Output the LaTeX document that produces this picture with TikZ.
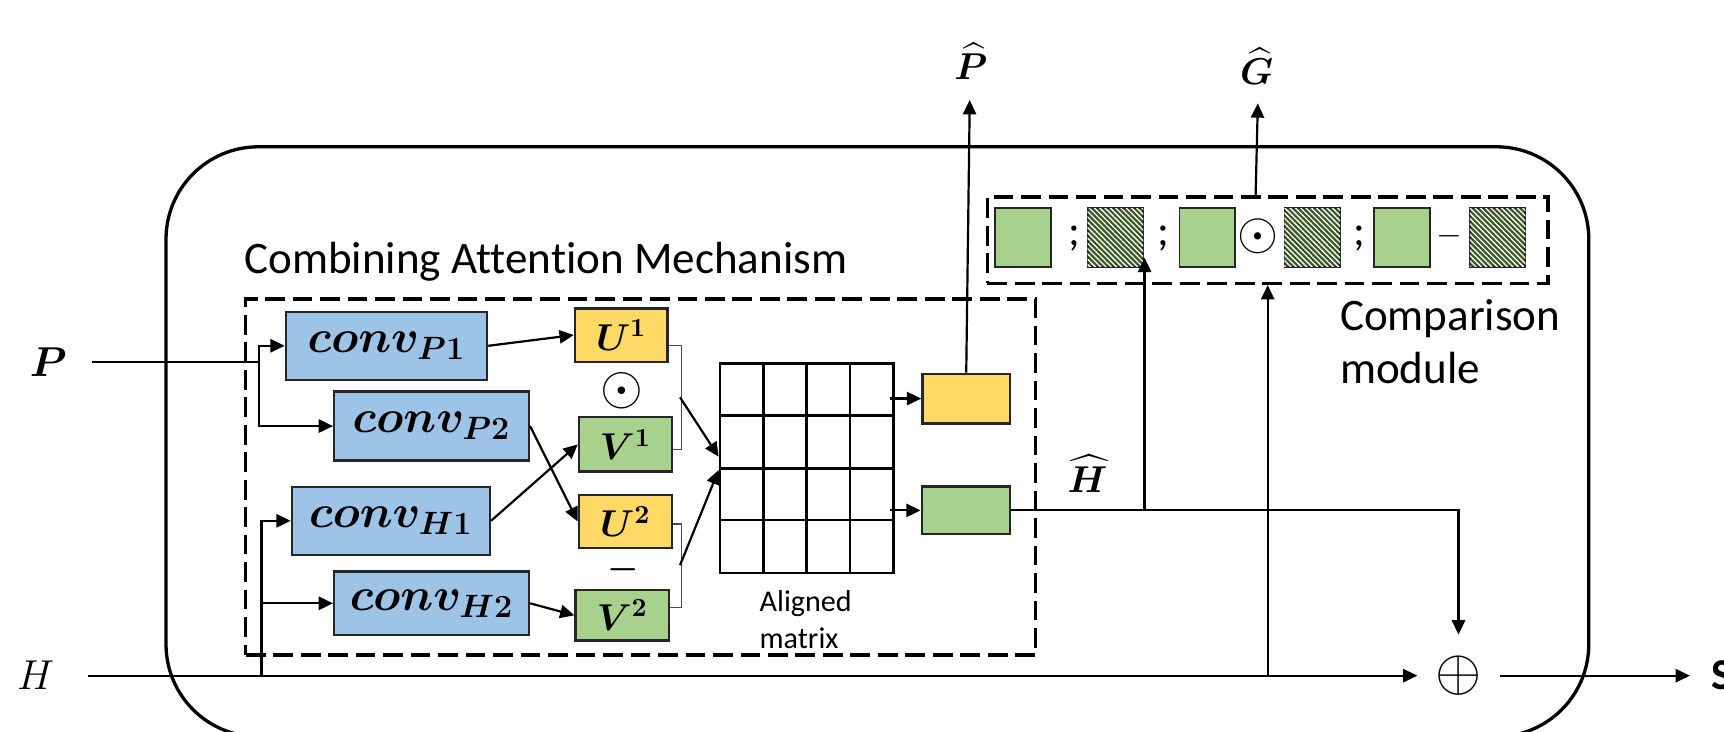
\RequirePackage{fix-cm}
\documentclass[tikz,border=0pt]{standalone}
\usepackage{amsmath}
\usepackage{bm}
\usepackage[no-math]{fontspec}
\setmainfont{Carlito}[Ligatures=NoCommon]
\usetikzlibrary{arrows.meta,calc,patterns.meta}
\definecolor{cblue}{HTML}{9DC3E6}
\definecolor{cyellow}{HTML}{FFD966}
\definecolor{cgreen}{HTML}{A9D18E}
\definecolor{cdark}{HTML}{385723}
\tikzset{
  box/.style={draw=black!85, line width=1.1pt, inner sep=0pt},
  convbox/.style={box, fill=cblue, font=\fontsize{21}{25}\selectfont},
  ybox/.style={box, fill=cyellow, font=\fontsize{17}{20}\selectfont},
  gbox/.style={box, fill=cgreen, font=\fontsize{17}{20}\selectfont},
  arr/.style={line width=1pt, -{Triangle[length=6.5pt,width=6pt]}},
  plain/.style={line width=1pt},
  brk/.style={line width=0.5pt, draw=black!70},
  dbox/.style={draw, line width=1.6pt, dash pattern=on 9pt off 3.5pt},
  gridl/.style={line width=1.2pt},
  sq/.style={draw=black!85, line width=0.9pt, minimum width=25.25pt, minimum height=26.5pt, inner sep=0pt},
  gsq/.style={sq, fill=cgreen},
  hsq/.style={sq, fill=cdark, postaction={pattern={Lines[angle=-45,distance=1.7pt,line width=0.6pt]}, pattern color=white}},
  lbl/.style={font=\fontsize{20.5}{24.25}\selectfont, inner sep=0pt},
  semi/.style={font=\fontsize{20}{24}\selectfont, inner sep=0pt},
  mlbl/.style={font=\fontsize{19}{22}\selectfont},
  hlbl/.style={font=\fontsize{17}{20}\selectfont, inner sep=0pt},
}
\begin{document}
\begin{tikzpicture}[x=0.5pt,y=-0.5pt]
\useasboundingbox (0,0) rectangle (1568,665);
% outer rounded frame
\draw[line width=1.5pt, rounded corners=42pt] (151,133.5) rectangle (1445,670);

% titles
\node[lbl, anchor=west] (camt) at (222,238) {Combining Attention Mechanism};
\node[lbl, align=left] (cmpt) at (1319,311) {Comparison\\module};

% dashed containers
\node[dbox, minimum width=359.25pt, minimum height=161.85pt, inner sep=0pt] (cam) at (582.75,433.85) {};
\node[dbox, minimum width=255pt, minimum height=39.35pt, inner sep=0pt] (cmp) at (1153,218.35) {};

% inputs
\node[mlbl] (P) at (44,329) {$\bm{P}$};
\node[mlbl] (H) at (32.5,614.5) {$H$};
\coordinate (Ps) at (84,329);
\coordinate (Pj) at (235.5,329);
\coordinate (Hs) at (79.6,614.5);
\coordinate (Hj) at (237.8,614.5);
\coordinate (Hk) at (1153,614.5);

% conv boxes
\node[convbox, minimum width=91.5pt, minimum height=31pt] (c1) at (351.5,314.5) {$\bm{conv_{P1}}$};
\node[convbox, minimum width=88.5pt, minimum height=31.5pt] (c2) at (392.5,387.5) {$\bm{conv_{P2}}$};
\node[convbox, minimum width=90pt, minimum height=31pt] (h1) at (355.5,473.7) {$\bm{conv_{H1}}$};
\node[convbox, minimum width=88.5pt, minimum height=28.75pt] (h2) at (392.5,548.7) {$\bm{conv_{H2}}$};

% U / V boxes
\node[ybox, minimum width=42pt, minimum height=24.3pt] (u1) at (565,304.7) {$\bm{U^{1}}$};
\node[gbox, minimum width=42.2pt, minimum height=24.75pt] (v1) at (568.8,404.2) {$\bm{V^{1}}$};
\node[ybox, minimum width=42.2pt, minimum height=24.35pt] (u2) at (568.8,474.3) {$\bm{U^{2}}$};
\node[gbox, minimum width=42.45pt, minimum height=23.05pt] (v2) at (566,559.6) {$\bm{V^{2}}$};
\node[font=\fontsize{25}{28}\selectfont, inner sep=0pt] (od1) at (566,355) {$\odot$};
\node[font=\fontsize{16}{20}\selectfont, inner sep=0pt] (mi1) at (566.5,517.8) {$\bm{-}$};

% aligned matrix
\node[draw, gridl, minimum width=78.85pt, minimum height=95.25pt, inner sep=0pt] (mat) at (733.65,425.75) {};
\foreach \x in {694.2,733.6,773} \draw[gridl] (\x,330.5) -- (\x,521);
\foreach \y in {378,426,473} \draw[gridl] (654.8,\y) -- (812.5,\y);
\node[align=left, inner sep=0pt, font=\fontsize{13.7}{16.8}\selectfont] (amt) at (732.8,563.8) {Aligned\\matrix};

% outputs of attention
\node[box, fill=cyellow, minimum width=39.8pt, minimum height=22.5pt] (ya) at (878.8,362.5) {};
\node[box, fill=cgreen, minimum width=40.15pt, minimum height=21.55pt] (ga) at (878.5,464.2) {};

% comparison squares
\node[gsq] (s1) at (930.5,216) {};
\node[semi] (sc1) at (977,217) {;};
\node[hsq] (s2) at (1014.5,216) {};
\node[semi] (sc2) at (1058.5,217) {;};
\node[gsq] (s3) at (1098,216) {};
\node[font=\fontsize{24}{28}\selectfont, inner sep=0pt] (od2) at (1144,215) {$\odot$};
\node[hsq] (s4) at (1193.5,216) {};
\node[semi] (sc3) at (1236,217) {;};
\node[gsq] (s5) at (1275,216) {};
\node[font=\fontsize{15}{18}\selectfont, inner sep=0pt] (mi2) at (1318.5,215) {$-$};
\node[hsq] (s6) at (1362,216) {};

% labels
\node[hlbl] (Phat) at (883,56) {$\widehat{\bm{P}}$};
\node[hlbl] (Ghat) at (1143,60) {$\widehat{\bm{G}}$};
\node[hlbl] (Hhat) at (989,431) {$\widehat{\bm{H}}$};
\coordinate (Ptip) at (882,91);
\coordinate (Gtip) at (1144,94);
\coordinate (Hb) at (1041,464.2);

% oplus and S
\node[circle, minimum size=37pt, inner sep=0pt, font=\fontsize{27}{30}\selectfont] (oplus) at (1326.5,614.5) {$\oplus$};
\node[anchor=west, inner sep=9.5pt, font=\fontsize{20}{24}\selectfont\bfseries] (S) at (1537,614.5) {S};

% connectors
\draw[plain] (Ps) -- (Pj);
\draw[arr] (Pj) |- (c1.west);
\draw[arr] (Pj) |- (c2.west);
\draw[arr] (Hs) -- (oplus.west);
\draw[arr] (Hj) |- (h1.west);
\draw[arr] (Hj |- h2.west) -- (h2.west);
\draw[arr] (Hk) -- (Hk |- cmp.south);
\draw[arr] (c1.east) -- (u1.west);
\draw[arr] (c2.east) -- (u2.west);
\draw[arr] (h1.east) -- (v1.west);
\draw[arr] (h2.east) -- (v2.west);
\draw[brk] ($(u1.east)+(0,9.7)$) -| ($(v1.east)+(7.5,4.5)$) -- ($(v1.east)+(0,4.5)$);
\draw[brk] ($(u2.east)+(0,2.3)$) -| ($(v2.east)+(10,-7.2)$) -- ($(v2.east)+(0,-7.2)$);
\coordinate (b1m) at (618.5,361.4);
\coordinate (b2m) at (618.5,514);
\draw[arr] (b1m) -- ($(mat.west)+(0,-10.4)$);
\draw[arr] (b2m) -- ($(mat.west)+(0,1.7)$);
\draw[arr] ($(mat.east |- ya.west)+(-4.5,0)$) -- (ya.west);
\draw[arr] ($(mat.east |- ga.west)+(-4.5,0)$) -- (ga.west);
\draw[arr] (ya.north) -- (Ptip);
\draw[arr] (ga.east) -| (oplus.north);
\draw[arr] (Hb) -- ($(Hb |- s2.south)+(0,-9)$);
\draw[arr] ($(cmp.north)+(-11,0)$) -- (Gtip);
\draw[arr] (oplus.east) -- (S.west);
\end{tikzpicture}
\end{document}
